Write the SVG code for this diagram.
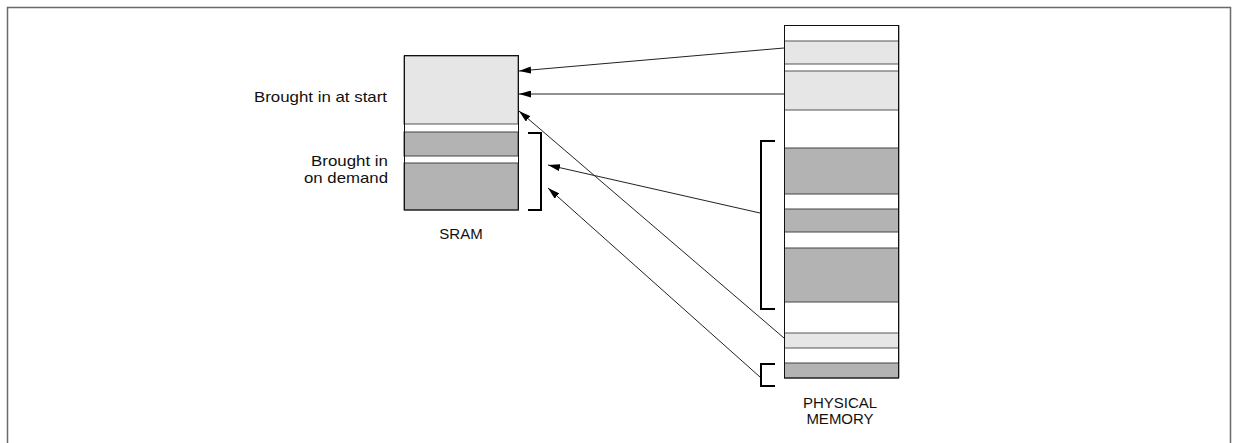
<svg xmlns="http://www.w3.org/2000/svg" width="1233" height="443" viewBox="0 0 1233 443">
<defs>
<style>
.lbl{font-family:"Liberation Sans",Arial,sans-serif;font-size:15px;fill:#111}
.lt{fill:#e6e6e6;stroke:#555;stroke-width:1}
.dk{fill:#b3b3b3;stroke:#444;stroke-width:1}
.box{fill:none;stroke:#111;stroke-width:1}
.br{fill:none;stroke:#000;stroke-width:2}
.con{fill:none;stroke:#222;stroke-width:1;marker-end:url(#ah)}
</style>
<marker id="ah" viewBox="0 0 12 7" refX="12" refY="3.5" markerWidth="12" markerHeight="7" markerUnits="userSpaceOnUse" orient="auto">
<path d="M0,0 L12,3.5 L0,7 Z" fill="#000"/>
</marker>
</defs>
<rect width="1233" height="443" fill="#fff"/>
<path d="M7.5,443 V7.5 H1230.5 V443" fill="none" stroke="#6a6a6a" stroke-width="1.5"/>

<g id="sram">
<rect x="404" y="56" width="114" height="154" fill="#fff"/>
<rect class="lt" x="404" y="56" width="114" height="68"/>
<rect class="dk" x="404" y="132" width="114" height="24"/>
<rect class="dk" x="404" y="163" width="114" height="47"/>
<rect class="box" x="404.5" y="55.5" width="114" height="154.5"/>
<text class="lbl" x="461" y="239" text-anchor="middle">SRAM</text>
</g>

<g id="sram-bracket">
<path class="br" d="M528,133 H541 V210 H528"/>
</g>

<g id="labels">
<text class="lbl" x="387" y="102" text-anchor="end" textLength="133" lengthAdjust="spacingAndGlyphs">Brought in at start</text>
<text class="lbl" x="388" y="166" text-anchor="end" textLength="77" lengthAdjust="spacingAndGlyphs">Brought in</text>
<text class="lbl" x="388" y="183" text-anchor="end" textLength="84" lengthAdjust="spacingAndGlyphs">on demand</text>
</g>

<g id="physical-memory">
<rect x="784" y="25" width="114" height="353" fill="#fff"/>
<rect class="lt" x="784.5" y="41" width="114" height="23"/>
<rect class="lt" x="784.5" y="71" width="114" height="39"/>
<rect class="dk" x="784.5" y="148" width="114" height="46"/>
<rect class="dk" x="784.5" y="209" width="114" height="23"/>
<rect class="dk" x="784.5" y="248" width="114" height="54"/>
<rect class="lt" x="784.5" y="333" width="114" height="15"/>
<rect class="dk" x="784.5" y="363" width="114" height="15"/>
<rect class="box" x="784.5" y="25.5" width="114" height="352.5"/>
<line x1="899.5" y1="25" x2="899.5" y2="378" stroke="#d9a3a3" stroke-width="1"/>
<text class="lbl" x="840" y="408" text-anchor="middle">PHYSICAL</text>
<text class="lbl" x="840" y="424" text-anchor="middle">MEMORY</text>
</g>

<g id="pm-brackets">
<path class="br" d="M775,141 H761 V309 H775"/>
<path class="br" d="M775,364 H761 V386 H775"/>
</g>

<g id="connectors">
<line class="con" x1="784" y1="48" x2="519" y2="71"/>
<line class="con" x1="784" y1="94" x2="519" y2="94"/>
<line class="con" x1="784" y1="338" x2="519" y2="111"/>
<line class="con" x1="760" y1="213" x2="548" y2="165"/>
<line class="con" x1="760" y1="377" x2="548" y2="188"/>
</g>
</svg>
